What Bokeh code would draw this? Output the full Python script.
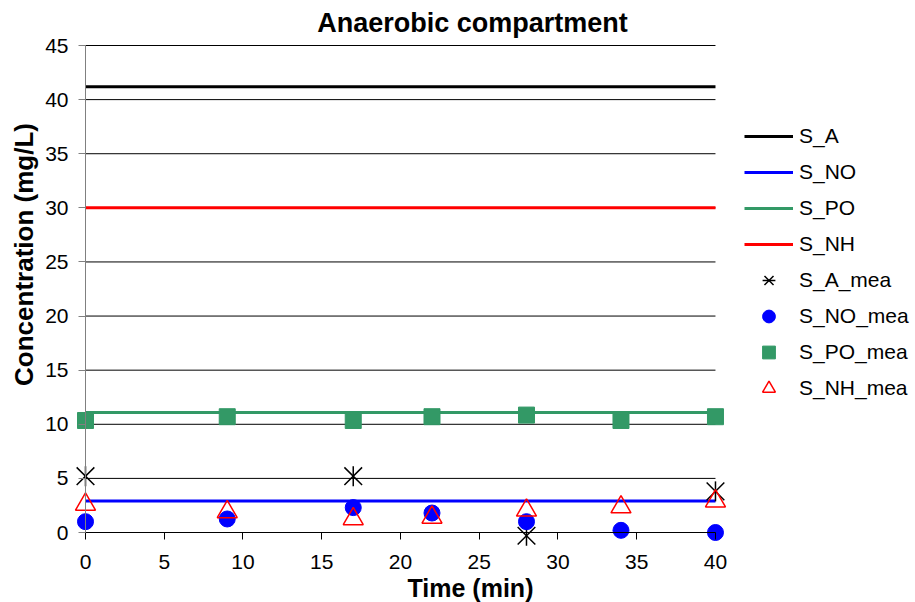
import math

from bokeh.embed import file_html
from bokeh.models import ColumnDataSource, FixedTicker, Label, Legend, LegendItem, Range1d
from bokeh.plotting import figure
from bokeh.resources import INLINE

# Simulated profiles in the anaerobic compartment (constant over the run)
t_model = [0, 40]
S_A = [41.2, 41.2]
S_NO = [2.9, 2.9]
S_PO = [11.1, 11.1]
S_NH = [30.0, 30.0]

# Measured concentrations
t_mea = [0, 9, 17, 22, 28, 34, 40]
t_A_mea = [0, 17, 28, 40]
S_A_mea = [5.2, 5.2, -0.3, 3.8]
S_NO_mea = [1.0, 1.25, 2.3, 1.8, 1.0, 0.2, 0.0]
S_PO_mea = [10.35, 10.7, 10.35, 10.7, 10.85, 10.35, 10.7]
S_NH_mea = [2.6, 1.9, 1.25, 1.4, 2.05, 2.35, 2.9]

# Axis ticks
x_ticks = [0, 5, 10, 15, 20, 25, 30, 35, 40]
y_ticks = [0, 5, 10, 15, 20, 25, 30, 35, 40, 45]

FONT = "Liberation Sans"
GREEN = "#339966"
W, H = 915, 602

# The data frame fills the whole canvas; axes are pinned at the origin.
p = figure(
    width=W, height=H,
    x_range=Range1d(-5.397, 52.70), y_range=Range1d(-6.468, 49.159),
    output_backend="svg", toolbar_location=None,
    min_border_left=0, min_border_right=0, min_border_top=0, min_border_bottom=0,
)
p.title.visible = False
p.outline_line_color = None
p.background_fill_color = "white"
p.border_fill_color = "white"
p.xgrid.visible = False
p.ygrid.visible = False

# Horizontal grid lines spanning only the time axis
grid_src = ColumnDataSource(dict(
    y=y_ticks[1:],
    x0=[x_ticks[0]] * (len(y_ticks) - 1),
    x1=[x_ticks[-1]] * (len(y_ticks) - 1),
))
p.segment(x0="x0", y0="y", x1="x1", y1="y", source=grid_src, line_color="black", line_width=1)

xa = p.xaxis[0]
xa.fixed_location = 0
xa.bounds = (x_ticks[0], x_ticks[-1])
xa.ticker = FixedTicker(ticks=x_ticks)
xa.axis_line_color = "black"
xa.major_tick_line_color = "black"
xa.major_tick_in = 0
xa.major_tick_out = 7
xa.minor_tick_line_color = None
xa.major_label_standoff = 15
xa.major_label_text_font = FONT
xa.major_label_text_font_size = "21px"
xa.major_label_text_color = "black"

ya = p.yaxis[0]
ya.fixed_location = 0
ya.bounds = (y_ticks[0], y_ticks[-1])
ya.ticker = FixedTicker(ticks=y_ticks)
ya.axis_line_color = "#808080"
ya.major_tick_line_color = "#808080"
ya.major_tick_in = 0
ya.major_tick_out = 7
ya.minor_tick_line_color = None
ya.major_label_standoff = 10
ya.major_label_text_font = FONT
ya.major_label_text_font_size = "21px"
ya.major_label_text_color = "black"

# Model lines
r_a = p.line(t_model, S_A, line_color="black", line_width=3)
r_no = p.line(t_model, S_NO, line_color="#0000FF", line_width=3)
r_po = p.line(t_model, S_PO, line_color=GREEN, line_width=3)
r_nh = p.line(t_model, S_NH, line_color="#FF0000", line_width=3)

# Measurements
r_am1 = p.scatter(t_A_mea, S_A_mea, marker="x", size=25, line_color="black", line_width=1.5)
r_am2 = p.scatter(t_A_mea, S_A_mea, marker="dash", size=20, angle=math.pi / 2,
                  line_color="black", line_width=1.5)
r_nom = p.scatter(t_mea, S_NO_mea, marker="circle", size=16, fill_color="#0000FF", line_color="#0000FF")
r_pom = p.scatter(t_mea, S_PO_mea, marker="square", size=16, fill_color=GREEN, line_color=GREEN)
r_nhm = p.scatter(t_mea, S_NH_mea, marker="triangle", size=20, fill_alpha=0,
                  line_color="#FF0000", line_width=1.5)

legend = Legend(
    items=[
        LegendItem(label="S_A", renderers=[r_a]),
        LegendItem(label="S_NO", renderers=[r_no]),
        LegendItem(label="S_PO", renderers=[r_po]),
        LegendItem(label="S_NH", renderers=[r_nh]),
        LegendItem(label="S_A_mea", renderers=[r_am1, r_am2]),
        LegendItem(label="S_NO_mea", renderers=[r_nom]),
        LegendItem(label="S_PO_mea", renderers=[r_pom]),
        LegendItem(label="S_NH_mea", renderers=[r_nhm]),
    ],
    location=(744, 198),
    label_text_font=FONT, label_text_font_size="21px", label_text_color="black",
    glyph_width=49, glyph_height=32, label_height=20, label_standoff=6, spacing=4,
    padding=0, margin=0, border_line_color=None, background_fill_alpha=0,
)
p.add_layout(legend)

# Chart and axis titles
p.add_layout(Label(x=472, y=H - 22, x_units="screen", y_units="screen", text="Anaerobic compartment",
                   text_font=FONT, text_font_style="bold", text_font_size="27px", text_color="black",
                   text_align="center", text_baseline="alphabetic"))
p.add_layout(Label(x=470, y=H - 587, x_units="screen", y_units="screen", text="Time (min)",
                   text_font=FONT, text_font_style="bold", text_font_size="25px", text_color="black",
                   text_align="center", text_baseline="alphabetic"))
p.add_layout(Label(x=23, y=H - 254, x_units="screen", y_units="screen", text="Concentration (mg/L)",
                   angle=math.pi / 2,
                   text_font=FONT, text_font_style="bold", text_font_size="26px", text_color="black",
                   text_align="center", text_baseline="alphabetic"))

open("out.html", "w").write(file_html(p, INLINE))
